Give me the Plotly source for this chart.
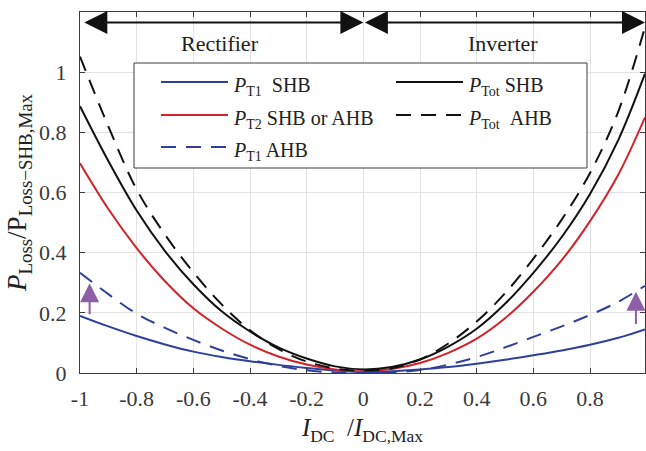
import plotly.graph_objects as go

# ---- data ----
x_vals = [-1.0, -0.9, -0.8, -0.7, -0.6, -0.5, -0.4, -0.3, -0.2, -0.1, 0.0,
          0.1, 0.2, 0.3, 0.4, 0.5, 0.6, 0.7, 0.8, 0.9, 0.994]
p_t1_shb = [0.190, 0.155, 0.123, 0.095, 0.071, 0.053, 0.039, 0.027, 0.017, 0.008, 0.003,
            0.006, 0.012, 0.020, 0.031, 0.044, 0.059, 0.075, 0.094, 0.117, 0.145]
p_t1_ahb = [0.333, 0.262, 0.197, 0.150, 0.110, 0.075, 0.046, 0.024, 0.009, 0.002, 0.000,
            0.002, 0.010, 0.028, 0.053, 0.085, 0.120, 0.155, 0.193, 0.237, 0.290]
p_t2 = [0.697, 0.545, 0.415, 0.305, 0.215, 0.148, 0.094, 0.055, 0.028, 0.012, 0.006,
        0.013, 0.033, 0.067, 0.114, 0.182, 0.270, 0.375, 0.505, 0.660, 0.850]
p_tot_shb = [0.887, 0.705, 0.540, 0.405, 0.295, 0.205, 0.138, 0.085, 0.048, 0.022, 0.012,
             0.020, 0.045, 0.088, 0.147, 0.230, 0.333, 0.452, 0.595, 0.775, 0.995]
p_tot_ahb = [1.052, 0.820, 0.610, 0.460, 0.335, 0.228, 0.142, 0.080, 0.038, 0.015, 0.008,
             0.016, 0.045, 0.098, 0.171, 0.265, 0.380, 0.510, 0.665, 0.870, 1.150]

x_ticks = [-1, -0.8, -0.6, -0.4, -0.2, 0, 0.2, 0.4, 0.6, 0.8]
x_tick_text = ["-1", "-0.8", "-0.6", "-0.4", "-0.2", "0", "0.2", "0.4", "0.6", "0.8"]
y_ticks = [0, 0.2, 0.4, 0.6, 0.8, 1.0, 1.2]
y_tick_text = ["0", "0.2", "0.4", "0.6", "0.8", "1", "1.2"]

region_labels = ["Rectifier", "Inverter"]
region_label_x = [-0.506, 0.494]
region_label_y = 1.096
region_arrow_y = 1.165
region_arrow_x = [(-0.99, 0.0), (0.0, 0.994)]

up_arrow_x = [-0.966, 0.962]
up_arrow_from = [0.19, 0.158]
up_arrow_to = [0.298, 0.27]

BLUE = "#2f3f9c"
RED = "#d3222a"
BLACK = "#111111"
PURPLE = "#8c5fa8"
DASH = "15px,10px"
FONT = "Liberation Serif"

series = [
    ("p_t1_shb", p_t1_shb, BLUE, "solid"),
    ("p_t2", p_t2, RED, "solid"),
    ("p_t1_ahb", p_t1_ahb, BLUE, DASH),
    ("p_tot_shb", p_tot_shb, BLACK, "solid"),
    ("p_tot_ahb", p_tot_ahb, BLACK, DASH),
]

fig = go.Figure()
for name, ys, col, dash in series:
    fig.add_trace(go.Scatter(x=x_vals, y=ys, mode="lines", name=name,
                             line=dict(color=col, width=2, dash=dash, shape="spline", smoothing=1.0),
                             showlegend=False))

axis_common = dict(showgrid=True, gridcolor="#e3e3e3", gridwidth=1,
                   showline=True, linecolor="#3c3c3c", linewidth=1, mirror="ticks",
                   ticks="inside", ticklen=5, tickcolor="#3c3c3c",
                   zeroline=False, tickfont=dict(family=FONT, size=22, color="#3a3a3a"))

fig.update_layout(
    width=646, height=451,
    margin=dict(l=80, r=1, t=12, b=78),
    plot_bgcolor="white", paper_bgcolor="white",
    xaxis=dict(range=[-1, 0.994], tickvals=x_ticks, ticktext=x_tick_text,
               ticklabelstandoff=6,
               title=dict(text="<i>I</i><sub>DC</sub>  /<i>I</i><sub>DC,Max</sub>",
                          font=dict(family=FONT, size=25, color="#222"), standoff=8),
               **axis_common),
    yaxis=dict(range=[0, 1.2], tickvals=y_ticks, ticktext=y_tick_text,
               ticklabelstandoff=8,
               title=dict(text="<i>P</i><sub>Loss</sub>/P<sub>Loss\u2212SHB,Max</sub>",
                          font=dict(family=FONT, size=27, color="#222"), standoff=4),
               **axis_common),
    showlegend=False,
)

# region double arrows and labels
for (xa, xb) in region_arrow_x:
    fig.add_annotation(x=xb, y=region_arrow_y, ax=xa, ay=region_arrow_y,
                       xref="x", yref="y", axref="x", ayref="y",
                       showarrow=True, arrowhead=2, startarrowhead=2, arrowside="end+start",
                       arrowsize=2.3, startarrowsize=2.3, arrowwidth=2, arrowcolor=BLACK,
                       standoff=0, startstandoff=0, text="")
for lab, lx in zip(region_labels, region_label_x):
    fig.add_annotation(x=lx, y=region_label_y, xref="x", yref="y", text=lab, showarrow=False,
                       font=dict(family=FONT, size=22, color="#222"))

# purple arrows
for ux, u0, u1 in zip(up_arrow_x, up_arrow_from, up_arrow_to):
    fig.add_annotation(x=ux, y=u1, ax=ux, ay=u0, xref="x", yref="y", axref="x", ayref="y",
                       showarrow=True, arrowhead=2, arrowsize=1.9, arrowwidth=2,
                       arrowcolor=PURPLE, standoff=0, text="")

# ---- legend (drawn manually, MATLAB-style two columns) ----
def px2paper_x(px):
    return (px - 80) / 565.0

def px2paper_y(py):
    return (373 - py) / 361.0

fig.add_shape(type="rect", xref="paper", yref="paper",
              x0=px2paper_x(134), x1=px2paper_x(587), y0=px2paper_y(168), y1=px2paper_y(63),
              line=dict(color="#3c3c3c", width=1), fillcolor="white", layer="above")

legend_items = [
    ("<i>P</i><sub>T1</sub>\u00a0\u00a0SHB", BLUE, "solid", 161, 82),
    ("<i>P</i><sub>T2</sub> SHB or AHB", RED, "solid", 161, 115),
    ("<i>P</i><sub>T1</sub> AHB", BLUE, DASH, 161, 147),
    ("<i>P</i><sub>Tot</sub> SHB", BLACK, "solid", 396, 82),
    ("<i>P</i><sub>Tot</sub>\u00a0\u00a0AHB", BLACK, DASH, 396, 115),
]
for text, col, dash, lx, ly in legend_items:
    fig.add_shape(type="line", xref="paper", yref="paper",
                  x0=px2paper_x(lx), x1=px2paper_x(lx + 67), y0=px2paper_y(ly), y1=px2paper_y(ly),
                  line=dict(color=col, width=2, dash=dash), layer="above")
    fig.add_annotation(x=px2paper_x(lx + 70), y=px2paper_y(ly), xref="paper", yref="paper",
                       xanchor="left", yanchor="middle", yshift=-4, text=text, showarrow=False,
                       font=dict(family=FONT, size=20, color="#222"))

fig.write_html("out.html")
